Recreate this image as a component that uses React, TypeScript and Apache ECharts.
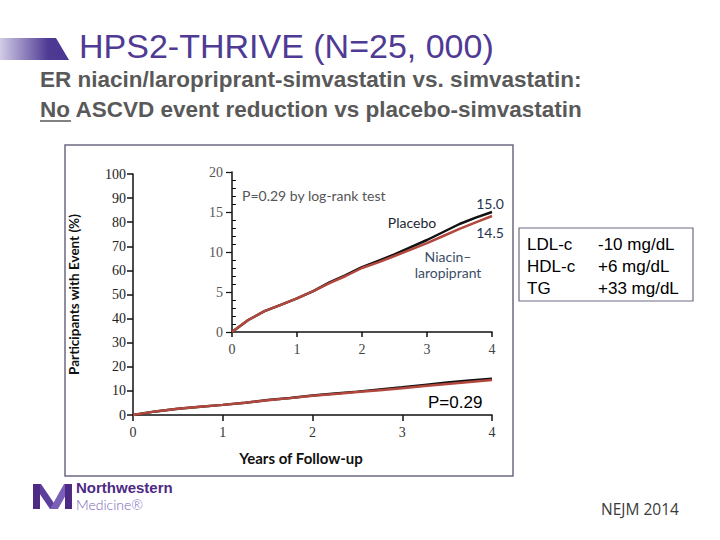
import React, { useEffect, useRef } from "react";
import * as echarts from "echarts";

const years = [0, 0.25, 0.5, 0.75, 1, 1.25, 1.5, 1.75, 2, 2.25, 2.5, 2.75, 3, 3.25, 3.5, 3.75, 4];
const placebo = [0, 1.5, 2.6, 3.4, 4.2, 5.1, 6.2, 7.1, 8.1, 8.9, 9.7, 10.6, 11.5, 12.5, 13.5, 14.3, 15.0];
const niacin = [0, 1.5, 2.6, 3.4, 4.2, 5.1, 6.1, 7.0, 8.0, 8.7, 9.5, 10.3, 11.1, 12.0, 12.9, 13.7, 14.5];
const mainYTicks = [0, 10, 20, 30, 40, 50, 60, 70, 80, 90, 100];
const insetYTicks = [0, 5, 10, 15, 20];
const xTicks = [0, 1, 2, 3, 4];
const lipidNames = ["LDL-c", "HDL-c", "TG"];
const lipidChanges = ["-10 mg/dL", "+6 mg/dL", "+33 mg/dL"];

const RED = "#b2473e";
const BLACK = "#111111";
const SERIF = "Liberation Serif";
const SANS = "Liberation Sans";

export default function App() {
  const ref = useRef<HTMLDivElement>(null);
  useEffect(() => {
    if (!ref.current) return;
    const chart = echarts.init(ref.current, null, { renderer: "svg" });
    const pts = (v: number[]) => years.map((x, i) => [x, v[i]]);
    const axisText = { color: "#222", fontFamily: SERIF, fontSize: 14 };
    const option: any = {
      animation: false,
      backgroundColor: "#ffffff",
      grid: [
        { left: 133, right: 228, top: 174, bottom: 125 },
        { left: 232, right: 228, top: 172, bottom: 208 },
      ],
      xAxis: [
        {
          gridIndex: 0, type: "value", min: xTicks[0], max: xTicks[xTicks.length - 1], interval: 1,
          axisLine: { lineStyle: { color: "#111", width: 1.5 } },
          axisTick: { show: true, length: 6, lineStyle: { color: "#111", width: 1.5 } },
          axisLabel: { ...axisText, color: "#333", margin: 10 },
          splitLine: { show: false },
        },
        {
          gridIndex: 1, type: "value", min: xTicks[0], max: xTicks[xTicks.length - 1], interval: 1,
          axisLine: { lineStyle: { color: "#111", width: 1.5 } },
          axisTick: { show: true, length: 5, lineStyle: { color: "#111", width: 1.5 } },
          axisLabel: { ...axisText, color: "#444", margin: 10 },
          splitLine: { show: false },
        },
      ],
      yAxis: [
        {
          gridIndex: 0, type: "value", min: mainYTicks[0], max: mainYTicks[mainYTicks.length - 1], interval: 10,
          axisLine: { show: true, lineStyle: { color: "#111", width: 1.5 } },
          axisTick: { show: true, length: 6, lineStyle: { color: "#111", width: 1.5 } },
          axisLabel: { ...axisText, margin: 7 },
          splitLine: { show: false },
          name: "Participants with Event (%)",
          nameLocation: "middle",
          nameGap: 52,
          nameTextStyle: { fontFamily: "Lato", fontWeight: "bold", fontSize: 13.5, color: "#111" },
        },
        {
          gridIndex: 1, type: "value", min: insetYTicks[0], max: insetYTicks[insetYTicks.length - 1], interval: 5,
          axisLine: { show: true, lineStyle: { color: "#111", width: 1.5 } },
          axisTick: { show: true, length: 6, lineStyle: { color: "#111", width: 1.2 } },
          minorTick: { show: true, splitNumber: 5, length: -4, lineStyle: { color: "#111", width: 1 } },
          axisLabel: { ...axisText, color: "#555", margin: 9 },
          splitLine: { show: false },
        },
      ],
      series: [
        { type: "line", xAxisIndex: 0, yAxisIndex: 0, data: pts(placebo), showSymbol: false, lineStyle: { color: BLACK, width: 2.5 } },
        { type: "line", xAxisIndex: 0, yAxisIndex: 0, data: pts(niacin), showSymbol: false, lineStyle: { color: RED, width: 2.5 } },
        { type: "line", xAxisIndex: 1, yAxisIndex: 1, data: pts(placebo), showSymbol: false, lineStyle: { color: BLACK, width: 2.5 } },
        { type: "line", xAxisIndex: 1, yAxisIndex: 1, data: pts(niacin), showSymbol: false, lineStyle: { color: RED, width: 2.5 } },
      ],
      graphic: [
        // title bar
        {
          type: "polygon", shape: { points: [[0, 38], [56, 38], [69, 60], [0, 60]] },
          style: {
            fill: new echarts.graphic.LinearGradient(0, 0, 1, 0, [
              { offset: 0, color: "#d2cce6" },
              { offset: 0.7, color: "#4f3a94" },
              { offset: 1, color: "#4a3590" },
            ]),
          },
        },
        { type: "text", x: 79, y: 46, style: { text: "HPS2-THRIVE (N=25, 000)", fontFamily: SANS, fontSize: 34, fill: "#4f3a94", verticalAlign: "middle" } },
        { type: "text", x: 40, y: 79, style: { text: "ER niacin/laropriprant-simvastatin vs. simvastatin:", fontFamily: SANS, fontWeight: "bold", fontSize: 22.5, fill: "#595959", verticalAlign: "middle" } },
        { type: "text", x: 40, y: 109, style: { text: "No ASCVD event reduction vs placebo-simvastatin", fontFamily: SANS, fontWeight: "bold", fontSize: 22.5, fill: "#595959", verticalAlign: "middle" } },
        { type: "line", shape: { x1: 40, y1: 121, x2: 71, y2: 121 }, style: { stroke: "#595959", lineWidth: 1.5 } },
        // frame
        { type: "rect", shape: { x: 65, y: 145, width: 448, height: 331 }, style: { fill: "none", stroke: "#6e6a82", lineWidth: 1.5 }, z: -1 },
        // x axis name
        { type: "text", x: 301, y: 458, style: { text: "Years of Follow-up", fontFamily: "Lato", fontWeight: "bold", fontSize: 15, fill: "#111", align: "center", verticalAlign: "middle" } },
        // inset texts
        { type: "text", x: 242, y: 195, style: { text: "P=0.29 by log-rank test", fontFamily: "Lato", fontSize: 14, fill: "#555", verticalAlign: "middle" } },
        { type: "text", x: 490, y: 203, style: { text: "15.0", fontFamily: "Lato", fontSize: 14, fill: "#1f3550", align: "center", verticalAlign: "middle" } },
        { type: "text", x: 490, y: 232, style: { text: "14.5", fontFamily: "Lato", fontSize: 14, fill: "#1f3550", align: "center", verticalAlign: "middle" } },
        { type: "text", x: 412, y: 222, style: { text: "Placebo", fontFamily: "Lato", fontSize: 14, fill: "#1d2533", align: "center", verticalAlign: "middle" } },
        { type: "text", x: 448, y: 256, style: { text: "Niacin\u2013", fontFamily: "Lato", fontSize: 14, fill: "#3b4d66", align: "center", verticalAlign: "middle" } },
        { type: "text", x: 448, y: 272, style: { text: "laropiprant", fontFamily: "Lato", fontSize: 14, fill: "#3b4d66", align: "center", verticalAlign: "middle" } },
        // main P
        { type: "text", x: 428, y: 402, style: { text: "P=0.29", fontFamily: SANS, fontSize: 17, fill: "#000", verticalAlign: "middle" } },
        // lipid box
        { type: "rect", shape: { x: 519, y: 228, width: 174, height: 73 }, style: { fill: "#fff", stroke: "#6e6a82", lineWidth: 1.2 } },
        ...lipidNames.map((n, i) => ({ type: "text", x: 527, y: 244 + i * 22, style: { text: n, fontFamily: SANS, fontSize: 17, fill: "#000", verticalAlign: "middle" } })),
        ...lipidChanges.map((n, i) => ({ type: "text", x: 598, y: 244 + i * 22, style: { text: n, fontFamily: SANS, fontSize: 17, fill: "#000", verticalAlign: "middle" } })),
        // logo
        { type: "polygon", shape: { points: [[33, 484], [41, 484], [58, 509], [50, 509]] }, style: { fill: "#5b3f9c" } },
        { type: "rect", shape: { x: 33, y: 484, width: 7, height: 25 }, style: { fill: "#4e2a84" } },
        { type: "polygon", shape: { points: [[50, 509], [58, 509], [72, 484], [64, 484]] }, style: { fill: "#7a5fb8" } },
        { type: "rect", shape: { x: 65, y: 484, width: 7, height: 25 }, style: { fill: "#4e2a84" } },
        { type: "text", x: 76, y: 487, style: { text: "Northwestern", fontFamily: SANS, fontWeight: "bold", fontSize: 15, fill: "#4e2a84", verticalAlign: "middle" } },
        { type: "text", x: 76, y: 504, style: { text: "Medicine\u00ae", fontFamily: "Lato", fontWeight: 300, fontSize: 14, fill: "#7a5fb8", verticalAlign: "middle" } },
        // source
        { type: "text", x: 601, y: 509, style: { text: "NEJM 2014", fontFamily: "Open Sans", fontSize: 15.5, fill: "#3a3a3a", verticalAlign: "middle" } },
      ],
    };
    chart.setOption(option);
    return () => chart.dispose();
  }, []);
  return <div ref={ref} style={{ position: "fixed", left: 0, top: 0, width: 720, height: 540 }} />;
}
